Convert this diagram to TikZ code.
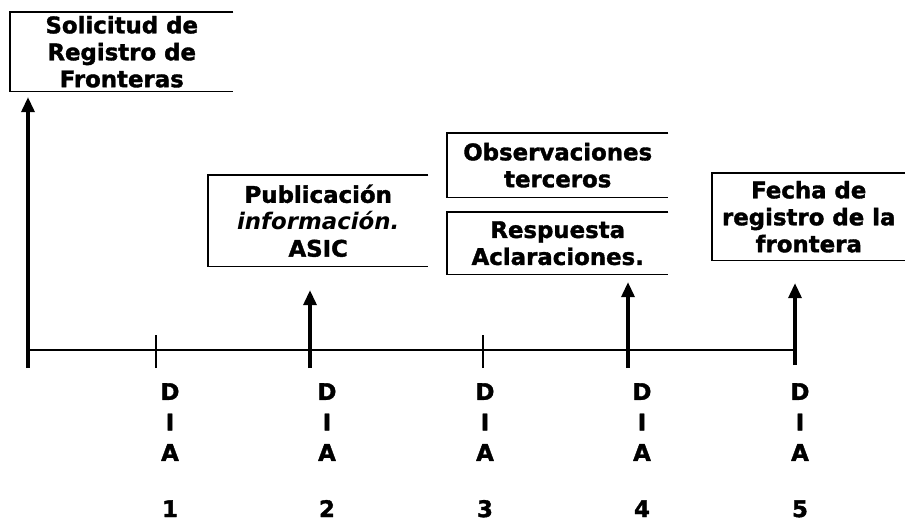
\documentclass[tikz,border=0pt]{standalone}
\usepackage{fontspec}
\setmainfont{DejaVu Sans}[BoldFeatures={FakeBold=1.6}]
\usetikzlibrary{arrows.meta}

\begin{document}
\begin{tikzpicture}[x=0.03cm,y=-0.03cm,font=\fontsize{19.5}{23}\selectfont\bfseries]
\tikzset{
% Boxes of the timeline, the right side is left open
event box/.style={inner sep=0,align=center,anchor=north west},
box line/.style={line width=1.6pt},
% Thick arrows from the days up to the boxes
event arrow/.style={line width=3.2pt,-{Triangle[length=13pt,width=11pt]}},
axis line/.style={line width=2.4pt},
day label/.style={anchor=north,align=center,inner sep=0,font=\fontsize{19.5}{26}\selectfont\bfseries}
}
\useasboundingbox (0,0) rectangle (905,522);
% The boxes
\node(s1)[event box,minimum width=223*0.03cm,minimum height=79*0.03cm] at (10,12) {Solicitud de\\Registro de\\Fronteras};
\node(s2)[event box,minimum width=220*0.03cm,minimum height=91*0.03cm] at (208,175) {Publicaci\'on\\\textit{informaci\'on.}\\ASIC};
\node(s3)[event box,minimum width=221*0.03cm,minimum height=64*0.03cm] at (447,133) {Observaciones\\terceros};
\node(s4)[event box,minimum width=221*0.03cm,minimum height=62*0.03cm] at (447,212) {Respuesta\\Aclaraciones.};
\node(s5)[event box,minimum width=193*0.03cm,minimum height=87*0.03cm] at (712,173) {Fecha de\\registro de la\\frontera};
\foreach \b in {s1,s2,s3,s4,s5}
  \draw[box line] (\b.north east) -- (\b.north west) -- (\b.south west) -- (\b.south east);
% The time line
\coordinate (d0) at (28,368);
\coordinate (d1) at (156,368);
\coordinate (d2) at (310,368);
\coordinate (d3) at (483,368);
\coordinate (d4) at (628,368);
\coordinate (d5) at (795,365);
\coordinate (t0) at (28,97);
\coordinate (t2) at (310,290);
\coordinate (t4) at (628,282);
\coordinate (t5) at (795,283);
\draw[axis line] (28,350) -- (795,350);
\foreach \d in {d1,d3}
  \draw[axis line] (\d) -- ++(0,-33);
\foreach \d/\t in {d0/t0,d2/t2,d4/t4,d5/t5}
  \draw[event arrow] (\d) -- (\t);
% The days
\foreach \x/\n in {170/1,327/2,485/3,642/4,800/5}
  \node(l\n)[day label] at (\x,383) {D\\I\\A\\[22pt]\n};
\end{tikzpicture}
\end{document}
